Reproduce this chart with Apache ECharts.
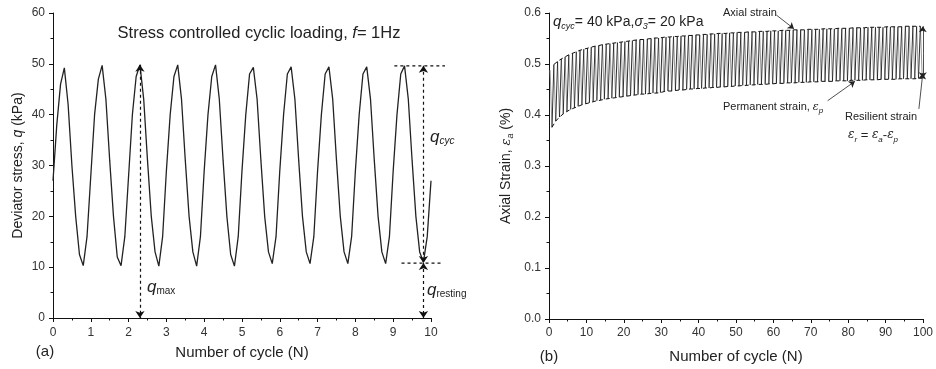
<!DOCTYPE html>
<html><head><meta charset="utf-8">
<script src="https://cdn.jsdelivr.net/npm/echarts@6/dist/echarts.min.js"></script>
<style>html,body{margin:0;padding:0;background:#fff}#c{width:936px;height:369px}</style>
</head><body><div id="c"></div>
<script>
// (a) deviator stress sampled every 0.1 cycle, N = 0.0 ... 10.0
const deviatorStress = [
  27, 38, 46, 49.2, 42, 30, 20, 12.5, 10.3, 16,
  28, 40, 47, 49.7, 43, 31, 20, 12, 10.3, 16,
  28, 40, 47.5, 49.8, 43, 31, 20, 13, 10.2, 16,
  29, 40, 47.5, 49.8, 43, 31, 20, 13, 10.2, 16,
  29, 40, 47.5, 49.8, 43, 31, 20, 12.5, 10.2, 16,
  29, 40, 48, 49.3, 43, 31, 20, 13, 10.7, 16,
  29, 40, 48, 49.4, 43, 31, 20, 13, 10.7, 16,
  29, 40, 48, 49.4, 43, 31, 20, 13, 10.7, 16,
  29, 40, 48, 49.4, 43, 31, 20, 13, 10.7, 16,
  29, 40, 48, 49.6, 43, 31, 20, 13, 11, 16,
  27
];
// (b) axial strain: peak (axial strain) and trough (permanent strain) of each cycle 1..100
const strainPeaks = [
  0.488,0.499,0.505,0.510,0.514,0.518,0.521,0.524,0.527,0.529,
  0.531,0.533,0.535,0.536,0.538,0.539,0.540,0.541,0.542,0.543,
  0.544,0.545,0.546,0.547,0.548,0.548,0.549,0.550,0.551,0.551,
  0.552,0.553,0.553,0.554,0.554,0.555,0.555,0.556,0.556,0.557,
  0.557,0.558,0.558,0.559,0.559,0.560,0.560,0.560,0.561,0.561,
  0.562,0.562,0.562,0.563,0.563,0.563,0.564,0.564,0.564,0.565,
  0.565,0.565,0.566,0.566,0.566,0.567,0.567,0.567,0.567,0.568,
  0.568,0.568,0.568,0.569,0.569,0.569,0.569,0.570,0.570,0.570,
  0.570,0.571,0.571,0.571,0.571,0.572,0.572,0.572,0.572,0.572,
  0.573,0.573,0.573,0.573,0.573,0.574,0.574,0.574,0.574,0.574
];
const strainTroughs = [
  0.376,0.388,0.396,0.402,0.407,0.411,0.414,0.417,0.420,0.422,
  0.424,0.426,0.428,0.429,0.431,0.432,0.433,0.434,0.435,0.436,
  0.437,0.438,0.439,0.440,0.441,0.441,0.442,0.443,0.443,0.444,
  0.446,0.447,0.447,0.448,0.449,0.449,0.450,0.451,0.451,0.452,
  0.452,0.453,0.453,0.454,0.454,0.455,0.455,0.456,0.456,0.457,
  0.457,0.458,0.458,0.459,0.459,0.460,0.460,0.460,0.461,0.461,
  0.462,0.462,0.462,0.463,0.463,0.463,0.464,0.464,0.464,0.465,
  0.465,0.465,0.466,0.466,0.466,0.466,0.467,0.467,0.467,0.467,
  0.468,0.468,0.468,0.468,0.469,0.469,0.469,0.469,0.470,0.470,
  0.470,0.470,0.470,0.471,0.471,0.471,0.471,0.471,0.472,0.472
];
const leftYTicks = [0, 60, 10];
const rightYTicks = [0, 0.6, 0.1];
// reference levels marked in (a): q_max / q_cyc top and q_resting
const qTopLevel = 49.6;
const qRestLevel = 10.8;

const FONT = 'Liberation Sans, Arial, sans-serif';
const TXT = '#222';

const stressData = deviatorStress.map((v, i) => [+(i / 10).toFixed(1), v]);
// loading (rising) and unloading (falling) strokes of each cycle, separated by gaps
const riseStrokes = [], fallStrokes = [];
strainPeaks.forEach((p, i) => {
  if (i > 0) { riseStrokes.push([i - 0.2, strainTroughs[i - 1]], [i + 0.3, p], [i + 0.3, '-']); }
  fallStrokes.push([i + 0.3, p], [i + 0.8, strainTroughs[i]], [i + 0.8, '-']);
});
const upperEnv = strainPeaks.map((p, i) => [i + 0.3, p]).slice(1);
const lowerEnv = strainTroughs.map((p, i) => [i + 0.8, p]);

function axisCommon(extra) {
  return Object.assign({
    axisLine: { show: true, onZero: false, lineStyle: { color: '#111', width: 1 } },
    axisTick: { show: true, inside: false, length: 4, lineStyle: { color: '#111' } },
    minorTick: { show: true, splitNumber: 2, length: 2.5, lineStyle: { color: '#111' } },
    splitLine: { show: false },
    axisLabel: { color: '#333', fontFamily: FONT, fontSize: 12 },
    nameLocation: 'middle',
    nameTextStyle: { color: TXT, fontFamily: FONT, fontSize: 15 }
  }, extra);
}

const option = {
  animation: false,
  backgroundColor: '#fff',
  grid: [
    { left: 53, right: 505, top: 13, bottom: 51 },
    { left: 549, right: 7, top: 13, bottom: 46 }
  ],
  xAxis: [
    axisCommon({ type: 'value', gridIndex: 0, min: 0, max: 10, interval: 1, name: 'Number of cycle (N)', nameGap: 27,
      axisLabel: { color: '#333', fontFamily: FONT, fontSize: 12, margin: 9 } }),
    axisCommon({ type: 'value', gridIndex: 1, min: 0, max: 100, interval: 10, name: 'Number of cycle (N)', nameGap: 30,
      axisLabel: { color: '#333', fontFamily: FONT, fontSize: 12, margin: 8, showMaxLabel: true } })
  ],
  yAxis: [
    axisCommon({ type: 'value', gridIndex: 0, min: leftYTicks[0], max: leftYTicks[1], interval: leftYTicks[2],
      name: '{n|Deviator stress, }{i|q}{n| (kPa)}', nameGap: 28,
      nameTextStyle: { color: TXT, fontFamily: FONT, fontSize: 14,
        rich: { n: { fontFamily: FONT, fontSize: 14, color: TXT }, i: { fontFamily: FONT, fontSize: 14, fontStyle: 'italic', color: TXT } } } }),
    axisCommon({ type: 'value', gridIndex: 1, min: rightYTicks[0], max: rightYTicks[1], interval: rightYTicks[2],
      name: '{n|Axial Strain, }{i|ε}{s|a}{n| (%)}', nameGap: 34,
      axisLabel: { color: '#333', fontFamily: FONT, fontSize: 12, formatter: v => v.toFixed(1) },
      nameTextStyle: { color: TXT, fontFamily: FONT, fontSize: 14,
        rich: { n: { fontFamily: FONT, fontSize: 14, color: TXT },
                i: { fontFamily: 'DejaVu Serif', fontSize: 13, fontStyle: 'italic', color: TXT },
                s: { fontFamily: FONT, fontSize: 9, fontStyle: 'italic', color: TXT, padding: [8, 0, 0, 0] } } } })
  ],
  series: [
    { type: 'line', xAxisIndex: 0, yAxisIndex: 0, data: stressData, showSymbol: false, symbol: 'none',
      lineStyle: { color: '#222', width: 1.3 }, silent: true },
    { type: 'line', xAxisIndex: 0, yAxisIndex: 0, data: [], clip: false, silent: true,
      markLine: { silent: true, symbol: ['arrow', 'arrow'], symbolSize: 7, label: { show: false },
        lineStyle: { color: '#111', width: 1.2, type: [3, 3] }, emphasis: { disabled: true },
        data: [
          [{ coord: [2.3, 49.8] }, { coord: [2.3, 0] }],
          [{ coord: [9.8, qTopLevel] }, { coord: [9.8, qRestLevel] }],
          [{ coord: [9.8, qRestLevel] }, { coord: [9.8, 0] }]
        ] } },
    { type: 'line', xAxisIndex: 1, yAxisIndex: 1, data: fallStrokes, showSymbol: false, symbol: 'none', connectNulls: false,
      lineStyle: { color: '#9a9a9a', width: 1 }, silent: true },
    { type: 'line', xAxisIndex: 1, yAxisIndex: 1, data: riseStrokes, showSymbol: false, symbol: 'none', connectNulls: false,
      lineStyle: { color: '#1a1a1a', width: 0.9 }, silent: true },
    { type: 'line', xAxisIndex: 1, yAxisIndex: 1, data: upperEnv, showSymbol: false, symbol: 'none',
      lineStyle: { color: '#111', width: 1, type: [4, 3] }, silent: true },
    { type: 'line', xAxisIndex: 1, yAxisIndex: 1, data: lowerEnv, showSymbol: false, symbol: 'none',
      lineStyle: { color: '#111', width: 1, type: [4, 3] }, silent: true },
    { type: 'line', xAxisIndex: 1, yAxisIndex: 1, data: [], clip: false, silent: true,
      markLine: { silent: true, symbol: ['none', 'arrow'], symbolSize: 6, label: { show: false },
        lineStyle: { color: '#222', width: 0.8, type: 'solid' }, emphasis: { disabled: true },
        data: [
          [{ coord: [60.8, 0.596] }, { coord: [65.5, 0.569] }],
          [{ coord: [74.5, 0.428] }, { coord: [81.8, 0.466] }],
          [{ coord: [98.9, 0.412] }, { coord: [99.95, 0.482] }],
          [{ coord: [99.95, 0.52], symbol: 'none' }, { coord: [99.95, 0.574] }],
          [{ coord: [99.95, 0.52], symbol: 'none' }, { coord: [99.95, 0.472] }]
        ] } }
  ],
  graphic: [
    { type: 'text', x: 259, y: 33, style: { text: '{n|Stress controlled cyclic loading, }{i|f}{n|= 1Hz}', align: 'center', verticalAlign: 'middle',
      rich: { n: { fontFamily: FONT, fontSize: 16.5, fill: TXT }, i: { fontFamily: FONT, fontSize: 16.5, fontStyle: 'italic', fill: TXT } } } },
    { type: 'text', x: 147, y: 287, style: { text: '{q|q}{s|max}', align: 'left', verticalAlign: 'middle',
      rich: { q: { fontFamily: FONT, fontSize: 17, fontStyle: 'italic', fill: TXT }, s: { fontFamily: FONT, fontSize: 10, fill: TXT, padding: [9, 0, 0, 0] } } } },
    { type: 'text', x: 430, y: 137, style: { text: '{q|q}{s|cyc}', align: 'left', verticalAlign: 'middle',
      rich: { q: { fontFamily: FONT, fontSize: 17, fontStyle: 'italic', fill: TXT }, s: { fontFamily: FONT, fontSize: 10, fontStyle: 'italic', fill: TXT, padding: [9, 0, 0, 0] } } } },
    { type: 'text', x: 427, y: 290, style: { text: '{q|q}{s|resting}', align: 'left', verticalAlign: 'middle',
      rich: { q: { fontFamily: FONT, fontSize: 17, fontStyle: 'italic', fill: TXT }, s: { fontFamily: FONT, fontSize: 10, fill: TXT, padding: [9, 0, 0, 0] } } } },
    { type: 'text', x: 45, y: 352, style: { text: '(a)', align: 'center', verticalAlign: 'middle', font: '15px ' + FONT, fill: TXT } },
    { type: 'text', x: 549, y: 357, style: { text: '(b)', align: 'center', verticalAlign: 'middle', font: '15px ' + FONT, fill: TXT } },
    { type: 'text', x: 553, y: 22, style: { text: '{q|q}{s|cyc}{n|= 40 kPa,}{g|σ}{s|3}{n|= 20 kPa}', align: 'left', verticalAlign: 'middle',
      rich: { q: { fontFamily: FONT, fontSize: 15, fontStyle: 'italic', fill: TXT }, n: { fontFamily: FONT, fontSize: 14, fill: TXT },
              g: { fontFamily: FONT, fontSize: 14, fontStyle: 'italic', fill: TXT }, s: { fontFamily: FONT, fontSize: 9, fontStyle: 'italic', fill: TXT, padding: [9, 0, 0, 0] } } } },
    { type: 'text', x: 723, y: 13, style: { text: 'Axial strain', align: 'left', verticalAlign: 'middle', font: '11px ' + FONT, fill: TXT } },
    { type: 'text', x: 723, y: 107, style: { text: '{n|Permanent strain, }{e|ε}{s|p}', align: 'left', verticalAlign: 'middle',
      rich: { n: { fontFamily: FONT, fontSize: 11, fill: TXT }, e: { fontFamily: 'DejaVu Serif', fontSize: 11, fontStyle: 'italic', fill: TXT }, s: { fontFamily: FONT, fontSize: 8, fontStyle: 'italic', fill: TXT, padding: [8, 0, 0, 0] } } } },
    { type: 'text', x: 845, y: 117, style: { text: 'Resilient strain', align: 'left', verticalAlign: 'middle', font: '11px ' + FONT, fill: TXT } },
    { type: 'text', x: 848, y: 135, style: { text: '{e|ε}{s|r}{n| = }{e|ε}{s|a}{n|-}{e|ε}{s|p}', align: 'left', verticalAlign: 'middle',
      rich: { n: { fontFamily: FONT, fontSize: 13, fill: TXT }, e: { fontFamily: 'DejaVu Serif', fontSize: 12, fontStyle: 'italic', fill: TXT }, s: { fontFamily: FONT, fontSize: 8, fontStyle: 'italic', fill: TXT, padding: [9, 0, 0, 0] } } } }
  ]
};
const chart = echarts.init(document.getElementById('c'), null, { renderer: 'canvas' });
chart.setOption(option);

// dashed reference levels of (a) extend a little past the plot edge, so they are placed via the axis scales
function px(x, y) { return chart.convertToPixel({ xAxisIndex: 0, yAxisIndex: 0 }, [x, y]); }
const levelLines = [[9.03, 10.37, qTopLevel], [9.22, 10.33, qRestLevel]].map(([x0, x1, y]) => {
  const a = px(x0, y), b = px(x1, y);
  return { type: 'line', shape: { x1: a[0], y1: a[1], x2: b[0], y2: b[1] }, silent: true,
    style: { stroke: '#111', lineWidth: 1.2, lineDash: [3, 3] } };
});
chart.setOption({ graphic: option.graphic.concat(levelLines) });
</script>
</body></html>
